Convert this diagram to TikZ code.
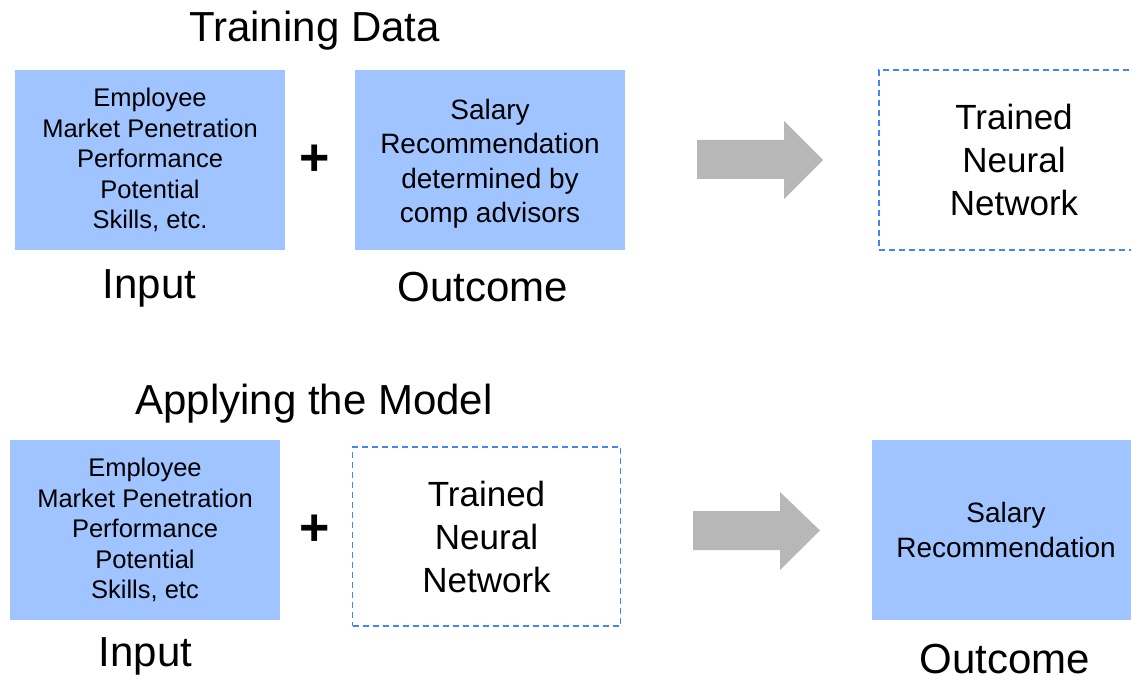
\documentclass[tikz,border=0pt]{standalone}
\usepackage{fontspec}
\setmainfont{Liberation Sans}
\definecolor{boxblue}{RGB}{160,196,255}
\definecolor{dashblue}{RGB}{66,133,244}
\definecolor{arrowgray}{RGB}{183,183,183}
\tikzset{
  x=1pt, y=-1pt,
  fillbox/.style={fill=boxblue, draw=none, minimum width=270pt, minimum height=180pt, inner sep=0pt, align=center, text=black},
  dashbox/.style={draw=dashblue, line width=1.8pt, dash pattern=on 6pt off 4pt, minimum width=268pt, minimum height=179pt, inner sep=0pt, align=center},
  smalltxt/.style={font=\fontsize{25.5}{30.5}\selectfont},
  midtxt/.style={font=\fontsize{28}{34.5}\selectfont},
  bigtxt/.style={font=\fontsize{35}{43}\selectfont},
  title/.style={font=\fontsize{42}{50}\selectfont, anchor=base, inner sep=0pt},
  plus/.style={font=\fontsize{52}{52}\selectfont\bfseries, inner sep=0pt},
  blockarrow/.style={fill=arrowgray, draw=none}
}
\begin{document}
\begin{tikzpicture}
\useasboundingbox (0,0) rectangle (1131,676);
% ---- Training Data ----
\node[title] (t1) at (314.5,42) {Training Data};
\node[fillbox, smalltxt] (in1) at (150,160) {Employee\\Market Penetration\\Performance\\Potential\\Skills, etc.};
\node[plus] (p1) at (315,160) {+};
\node[fillbox] (out1) at (490,160) {};
\node[midtxt, align=center, inner sep=0pt] (out1t) at ([yshift=-4pt]out1.center) {Salary\\Recommendation\\determined by\\comp advisors};
\fill[blockarrow] (697,140) -- (784,140) -- (784,121) -- (823,160) -- (784,199) -- (784,179) -- (697,179) -- cycle;
\node[dashbox, bigtxt, minimum width=270pt, minimum height=180pt] (nn1) at (1014,160) {Trained\\Neural\\Network};
\node[title] (l1) at (149.5,298) {Input};
\node[title] (l2) at (483,301) {Outcome};
% ---- Applying the Model ----
\node[title] (t2) at (314,414) {Applying the Model};
\node[fillbox, smalltxt] (in2) at (145,530) {Employee\\Market Penetration\\Performance\\Potential\\Skills, etc};
\node[plus] (p2) at (315,530) {+};
\node[dashbox, bigtxt] (nn2) at (486.5,536.5) {Trained\\Neural\\Network};
\fill[blockarrow] (693,511) -- (780,511) -- (780,492) -- (820,530.5) -- (780,570) -- (780,550) -- (693,550) -- cycle;
\node[fillbox, midtxt, minimum width=268pt] (out2) at (1006,530) {Salary\\Recommendation};
\node[title] (l3) at (145.5,666) {Input};
\node[title] (l4) at (1005,673) {Outcome};
\end{tikzpicture}
\end{document}
